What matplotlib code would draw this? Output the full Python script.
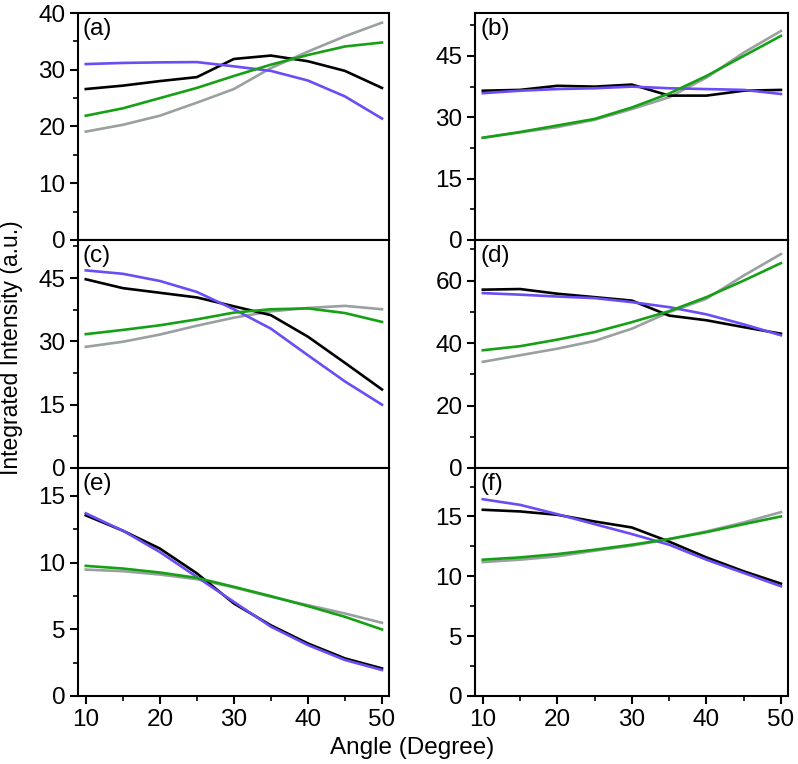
import matplotlib
matplotlib.use("Agg")
import matplotlib.pyplot as plt
from matplotlib.ticker import MultipleLocator

plt.rcParams['font.family'] = ['Liberation Sans', 'DejaVu Sans']

angle = [10, 15, 20, 25, 30, 35, 40, 45, 50]

a_black = [26.6, 27.2, 28.0, 28.7, 31.9, 32.5, 31.5, 29.8, 26.8]
a_purple = [31.0, 31.2, 31.3, 31.35, 30.6, 29.8, 28.1, 25.3, 21.4]
a_green = [21.9, 23.2, 25.0, 26.8, 28.9, 30.9, 32.6, 34.1, 34.8]
a_gray = [19.1, 20.3, 21.9, 24.2, 26.6, 30.3, 33.2, 35.9, 38.3]

b_black = [36.5, 36.7, 37.7, 37.5, 38.0, 35.3, 35.3, 36.5, 36.7]
b_purple = [35.9, 36.5, 36.9, 37.1, 37.5, 37.1, 36.9, 36.7, 35.7]
b_green = [25.0, 26.4, 28.0, 29.6, 32.4, 35.8, 40.1, 45.0, 49.9]
b_gray = [25.0, 26.3, 27.6, 29.4, 32.0, 34.9, 39.7, 45.8, 51.1]

c_black = [44.7, 42.6, 41.5, 40.4, 38.3, 36.2, 31.1, 24.9, 18.6]
c_purple = [46.8, 46.0, 44.3, 41.7, 37.6, 33.0, 26.7, 20.5, 15.0]
c_green = [31.7, 32.7, 33.8, 35.2, 36.8, 37.6, 37.8, 36.7, 34.6]
c_gray = [28.7, 29.9, 31.6, 33.7, 35.6, 37.1, 37.9, 38.4, 37.6]

d_black = [57.1, 57.3, 55.8, 54.7, 53.6, 48.8, 47.3, 45.1, 43.0]
d_purple = [56.0, 55.5, 54.9, 54.4, 53.1, 51.5, 49.2, 46.0, 42.5]
d_green = [37.7, 39.0, 41.1, 43.5, 46.7, 50.2, 54.7, 60.0, 65.6]
d_gray = [34.0, 36.1, 38.2, 40.7, 44.6, 49.9, 54.2, 61.6, 68.5]

e_black = [13.55, 12.4, 11.06, 9.2, 6.94, 5.3, 3.94, 2.82, 2.07]
e_purple = [13.7, 12.4, 10.8, 8.93, 7.06, 5.2, 3.82, 2.7, 1.95]
e_green = [9.76, 9.56, 9.26, 8.86, 8.19, 7.49, 6.74, 5.94, 4.99]
e_gray = [9.48, 9.36, 9.11, 8.76, 8.14, 7.44, 6.81, 6.19, 5.49]

f_black = [15.56, 15.42, 15.14, 14.58, 14.08, 12.9, 11.58, 10.42, 9.39]
f_purple = [16.44, 15.97, 15.19, 14.36, 13.53, 12.64, 11.39, 10.28, 9.17]
f_green = [11.39, 11.58, 11.86, 12.22, 12.64, 13.11, 13.69, 14.36, 15.0]
f_gray = [11.19, 11.39, 11.67, 12.14, 12.56, 13.11, 13.75, 14.5, 15.36]

panel_labels = ['(a)', '(b)', '(c)', '(d)', '(e)', '(f)']
panels = [
    (a_gray, a_black, a_purple, a_green),
    (b_gray, b_black, b_purple, b_green),
    (c_gray, c_black, c_purple, c_green),
    (d_gray, d_black, d_purple, d_green),
    (e_gray, e_black, e_purple, e_green),
    (f_gray, f_black, f_purple, f_green),
]
ylims = [40, 55.5, 54, 73, 17.1, 19.05]
ymajor = [10, 15, 15, 20, 5, 5]
yminor = [5, 7.5, 7.5, 10, 2.5, 2.5]
colors = ['#9aa0a0', '#000000', '#6c4cf5', '#15a015']

fig = plt.figure(figsize=(7.98, 7.64), dpi=100)
W, H = 798, 764
lefts = [78, 475]
widths = [311, 313]
tops = [13, 240, 468]
ph = [227, 228, 228]

for i, (lab, series) in enumerate(zip(panel_labels, panels)):
    r, c = divmod(i, 2)
    l = lefts[c] / W
    w = widths[c] / W
    b = 1 - (tops[r] + ph[r]) / H
    h = ph[r] / H
    ax = fig.add_axes([l, b, w, h])
    for s, col in zip(series, colors):
        ax.plot(angle, s, color=col, lw=1.9)
    ax.set_xlim(8.95, 50.95)
    ax.set_ylim(0, ylims[i])
    ax.xaxis.set_major_locator(MultipleLocator(10))
    ax.xaxis.set_minor_locator(MultipleLocator(5))
    ax.yaxis.set_major_locator(MultipleLocator(ymajor[i]))
    ax.yaxis.set_minor_locator(MultipleLocator(yminor[i]))
    ax.tick_params(which='major', direction='out', length=6, width=1.5, labelsize=17.5, pad=3)
    ax.tick_params(which='minor', direction='out', length=3.5, width=1.2)
    if r < 2:
        ax.tick_params(labelbottom=False)
    for sp in ax.spines.values():
        sp.set_linewidth(1.5)
    ax.text(5 / widths[c], 1 - 5 / ph[r], lab, transform=ax.transAxes, fontsize=17.5,
            va='top', ha='left')

fig.text(12 / W, 1 - 348 / H, 'Integrated Intensity (a.u.)', rotation=90, fontsize=16.5,
         va='center', ha='center')
fig.text(412 / W, 1 - 748 / H, 'Angle (Degree)', fontsize=17.5, va='center', ha='center')

fig.savefig('out.png', dpi=100)
